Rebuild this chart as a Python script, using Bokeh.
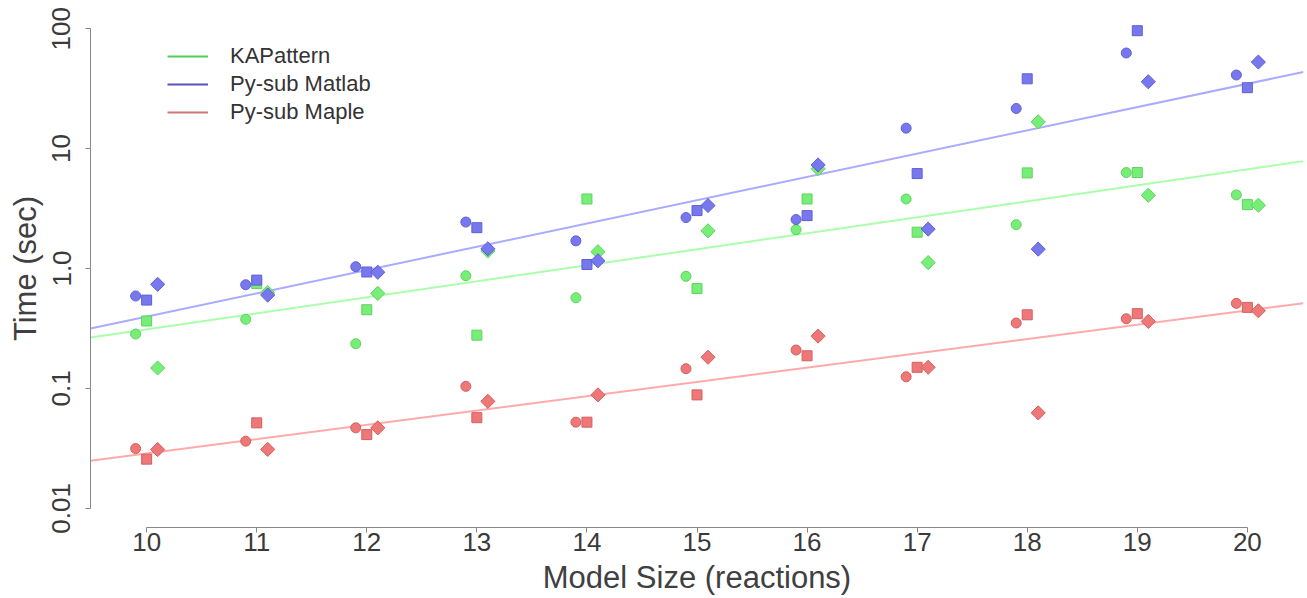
import numpy as np
from bokeh.plotting import figure
from bokeh.models import Range1d, FixedTicker, Legend, LegendItem, ColumnDataSource
from bokeh.transform import dodge
from bokeh.embed import file_html
from bokeh.resources import INLINE

# ---------------- data ----------------
sizes = [10, 11, 12, 13, 14, 15, 16, 17, 18, 19, 20]

kap_circle  = [0.284, 0.377, 0.236, 0.87, 0.57, 0.86, 2.11, 3.8, 2.32, 6.31, 4.11]
kap_square  = [0.365, 0.75, 0.453, 0.278, 3.8, 0.68, 3.8, 2.01, 6.27, 6.31, 3.41]
kap_diamond = [0.148, 0.63, 0.62, 1.40, 1.38, 2.06, 6.8, 1.12, 16.7, 4.08, 3.37]

matlab_circle  = [0.59, 0.732, 1.035, 2.44, 1.70, 2.66, 2.56, 14.8, 21.6, 62.7, 41.1]
matlab_square  = [0.545, 0.80, 0.935, 2.19, 1.08, 3.04, 2.76, 6.19, 38.2, 96.2, 32.2]
matlab_diamond = [0.738, 0.60, 0.93, 1.46, 1.16, 3.35, 7.31, 2.13, 1.45, 36.1, 52.7]

maple_circle  = [0.0315, 0.0363, 0.0469, 0.104, 0.0523, 0.146, 0.209, 0.125, 0.351, 0.381, 0.512]
maple_square  = [0.0257, 0.0516, 0.0412, 0.057, 0.0523, 0.0883, 0.187, 0.150, 0.411, 0.42, 0.474]
maple_diamond = [0.0309, 0.031, 0.0469, 0.078, 0.0883, 0.182, 0.273, 0.150, 0.0625, 0.362, 0.444]

series_names = ["KAPattern", "Py-sub Matlab", "Py-sub Maple"]
y_ticks = [0.01, 0.1, 1, 10, 100]
y_tick_labels = ["0.01", "0.1", "1.0", "10", "100"]
x_ticks = sizes

# ---------------- style ----------------
FONT = "Liberation Sans"
fills = ["#77ee77", "#7777ee", "#ee7777"]
edges = ["#5fd25f", "#5f5fd6", "#d65f5f"]
fit_colors = ["#aaffaa", "#aaaaff", "#ffaaaa"]
legend_colors = ["#55cc55", "#5555bb", "#d07777"]

x_lo, x_hi = 9.49, 20.51
p = figure(width=1307, height=598, y_axis_type="log",
           x_range=Range1d(x_lo, x_hi), y_range=Range1d(10 ** -2.16, 10 ** 2.16),
           output_backend="svg", toolbar_location=None,
           min_border_left=90, min_border_right=4, min_border_top=9, min_border_bottom=71)
p.outline_line_color = None
p.grid.visible = False
p.background_fill_color = "white"
p.border_fill_color = "white"

groups = [
    (kap_circle, kap_square, kap_diamond),
    (matlab_circle, matlab_square, matlab_diamond),
    (maple_circle, maple_square, maple_diamond),
]

# fit lines (least squares of log10(time) on size, all points)
for i, (c, s, d) in enumerate(groups):
    xs = np.array(sizes * 3, dtype=float)
    ys = np.log10(np.array(c + s + d, dtype=float))
    slope, icpt = np.polyfit(xs, ys, 1)
    fx = np.array([x_lo, x_hi])
    p.line(fx, 10 ** (icpt + slope * fx), line_color=fit_colors[i], line_width=2)

# points
for i, (c, s, d) in enumerate(groups):
    src = ColumnDataSource(dict(n=sizes, c=c, s=s, d=d))
    kw = dict(size=10, fill_color=fills[i], line_color=edges[i], line_width=1)
    p.scatter(x=dodge("n", -0.1), y="c", source=src, marker="circle", **kw)
    p.scatter(x="n", y="s", source=src, marker="square", **kw)
    p.scatter(x=dodge("n", 0.1), y="d", source=src, marker="square", angle=np.pi / 4, **kw)

# legend (line samples; NaN data so nothing is drawn in the plot)
items = []
for i, name in enumerate(series_names):
    r = p.line([np.nan, np.nan], [np.nan, np.nan], line_color=legend_colors[i], line_width=2)
    items.append(LegendItem(label=name, renderers=[r]))
legend = Legend(items=items, location=(77, 401), orientation="vertical",
                border_line_alpha=0, background_fill_alpha=0,
                padding=0, margin=0, spacing=0,
                glyph_width=41, glyph_height=28, label_height=28,
                label_standoff=22,
                label_text_font=FONT, label_text_font_size="22px",
                label_text_color="#333333")
p.add_layout(legend, "center")

# axes
for ax in (p.xaxis[0], p.yaxis[0]):
    ax.axis_line_color = "#888888"
    ax.major_tick_line_color = "#888888"
    ax.major_tick_out = 5
    ax.major_tick_in = 0
    ax.minor_tick_line_color = None
    ax.major_label_text_font = FONT
    ax.major_label_text_font_size = "26px"
    ax.major_label_text_color = "#3a3a3a"
    ax.axis_label_text_font = FONT
    ax.axis_label_text_font_size = "31px"
    ax.axis_label_text_font_style = "normal"
    ax.axis_label_text_color = "#404040"

p.xaxis.ticker = FixedTicker(ticks=x_ticks)
p.xaxis.bounds = (sizes[0], sizes[-1])
p.xaxis.axis_label = "Model Size (reactions)"
p.xaxis.major_label_standoff = 0
p.xaxis.axis_label_standoff = 6

p.yaxis.ticker = FixedTicker(ticks=y_ticks)
p.yaxis.bounds = (y_ticks[0], y_ticks[-1])
p.yaxis.major_label_overrides = {t: l for t, l in zip(y_ticks, y_tick_labels)}
p.yaxis.major_label_orientation = "vertical"
p.yaxis.axis_label = "Time (sec)"
p.yaxis.major_label_standoff = 15
p.yaxis.axis_label_standoff = 7

open("out.html", "w").write(file_html(p, INLINE))
